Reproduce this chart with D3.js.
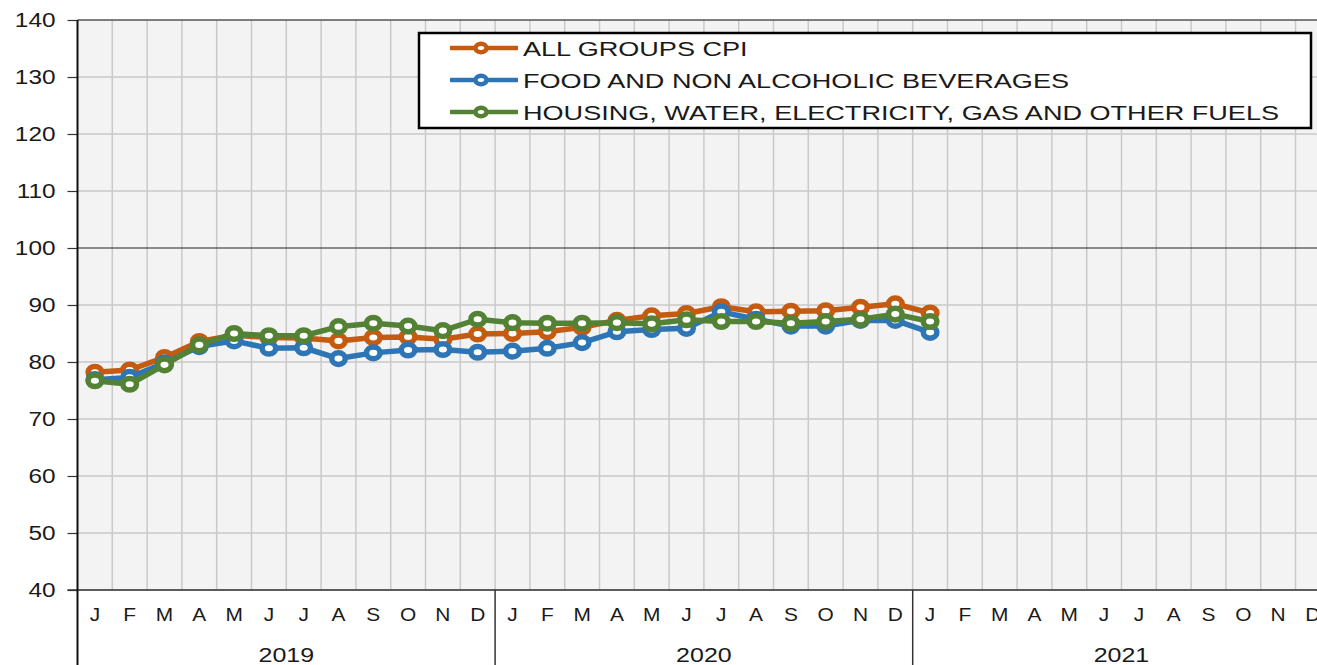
<!DOCTYPE html>
<html>
<head>
<meta charset="utf-8">
<style>
  body { margin: 0; background: #fff; }
  svg { font-family: "Liberation Sans", Arial, sans-serif; }
</style>
</head>
<body>
<svg width="1317" height="665"></svg>
<script src="https://cdn.jsdelivr.net/npm/d3@7/dist/d3.min.js"></script>
<script>
var years = ["2019", "2020", "2021"];
var monthLetters = ["J", "F", "M", "A", "M", "J", "J", "A", "S", "O", "N", "D"];
var yTicks = [40, 50, 60, 70, 80, 90, 100, 110, 120, 130, 140];

var seriesNames = [
  "ALL GROUPS CPI",
  "FOOD AND NON ALCOHOLIC BEVERAGES",
  "HOUSING, WATER, ELECTRICITY, GAS AND OTHER FUELS"
];
var seriesColors = ["#c55a11", "#2e75b6", "#548235"];

// Jan 2019 .. Jan 2021
var allGroups = [78.2, 78.6, 80.8, 83.6, 84.7, 84.3, 84.2, 83.7, 84.3, 84.4, 84.0, 84.9,
                 85.0, 85.3, 86.1, 87.3, 88.1, 88.5, 89.7, 88.8, 88.9, 89.0, 89.6, 90.2,
                 88.6];
var food =      [76.9, 77.3, 79.8, 82.7, 83.7, 82.4, 82.5, 80.6, 81.6, 82.1, 82.2, 81.7,
                 81.9, 82.4, 83.4, 85.3, 85.7, 85.9, 88.8, 87.5, 86.3, 86.3, 87.3, 87.3,
                 85.2];
var housing =   [76.7, 76.1, 79.5, 83.0, 85.0, 84.6, 84.6, 86.2, 86.8, 86.3, 85.5, 87.5,
                 86.9, 86.8, 86.8, 86.9, 86.7, 87.4, 87.1, 87.1, 86.8, 87.1, 87.5, 88.4,
                 87.1];

var svg = d3.select("svg");
var plotLeft = 77.5, plotTop = 20, plotBottom = 590, monthW = 34.8;

var months = [];
years.forEach(function(yr) {
  monthLetters.forEach(function(m, i) { months.push(yr + "-" + i); });
});

var x = d3.scaleBand().domain(months).range([plotLeft, plotLeft + months.length * monthW]).padding(0);
var y = d3.scaleLinear().domain([40, 140]).range([plotBottom, plotTop]);
var plotRight = plotLeft + months.length * monthW;

// widen text horizontally, like the stretched original
function stretch(sel, sx) {
  sel.each(function() {
    var t = d3.select(this);
    var x0 = +t.attr("x") || 0;
    t.attr("x", x0 / sx).attr("transform", "scale(" + sx + ",1)");
  });
}

// plot background
svg.append("rect")
    .attr("x", plotLeft).attr("y", plotTop)
    .attr("width", plotRight - plotLeft).attr("height", plotBottom - plotTop)
    .attr("fill", "#f3f3f3");

// vertical month gridlines
svg.append("g").selectAll("line")
  .data(months.slice(1))
  .enter().append("line")
    .attr("x1", function(d) { return x(d); })
    .attr("x2", function(d) { return x(d); })
    .attr("y1", plotTop).attr("y2", plotBottom)
    .attr("stroke", "#c9c9c9").attr("stroke-width", 1.5);

// horizontal gridlines
svg.append("g").selectAll("line")
  .data(yTicks)
  .enter().append("line")
    .attr("x1", plotLeft).attr("x2", plotRight)
    .attr("y1", function(d) { return y(d); })
    .attr("y2", function(d) { return y(d); })
    .attr("stroke", function(d) { return d === 100 ? "#222" : (d === 140 ? "#555" : "#c9c9c9"); })
    .attr("stroke-width", function(d) { return d === 100 ? 1.2 : 1.5; });

// y axis
var yAxis = svg.append("g")
    .attr("transform", "translate(" + plotLeft + ",0)")
    .call(d3.axisLeft(y).tickValues(yTicks).tickSize(10).tickPadding(12));
yAxis.select(".domain").remove();
yAxis.selectAll(".tick line").attr("stroke", "#333").attr("stroke-width", 1.2);
yAxis.selectAll(".tick text")
    .attr("font-size", 19.5).attr("fill", "#1a1a1a")
    .attr("font-family", "Liberation Sans, Arial, sans-serif")
    .call(stretch, 1.25);

// axis lines
svg.append("line")
    .attr("x1", plotLeft - 10).attr("x2", plotRight)
    .attr("y1", plotBottom).attr("y2", plotBottom)
    .attr("stroke", "#333").attr("stroke-width", 1.5);
svg.append("line")
    .attr("x1", plotLeft).attr("x2", plotLeft)
    .attr("y1", plotTop).attr("y2", 665)
    .attr("stroke", "#111").attr("stroke-width", 2);

// year separators
svg.append("g").selectAll("line")
  .data(years.slice(1))
  .enter().append("line")
    .attr("x1", function(d) { return x(d + "-0"); })
    .attr("x2", function(d) { return x(d + "-0"); })
    .attr("y1", plotBottom).attr("y2", 665)
    .attr("stroke", "#333").attr("stroke-width", 1.5);

// month labels
svg.append("g").selectAll("text")
  .data(months)
  .enter().append("text")
    .attr("x", function(d) { return x(d) + x.bandwidth() / 2; })
    .attr("y", 621)
    .attr("text-anchor", "middle")
    .attr("font-size", 19).attr("fill", "#1a1a1a")
    .text(function(d) { return monthLetters[+d.split("-")[1]]; })
    .call(stretch, 1.1);

// year labels
svg.append("g").selectAll("text")
  .data(years)
  .enter().append("text")
    .attr("x", function(d) { return (x(d + "-0") + x(d + "-11") + x.bandwidth()) / 2; })
    .attr("y", 662)
    .attr("text-anchor", "middle")
    .attr("font-size", 20).attr("fill", "#1a1a1a")
    .text(function(d) { return d; })
    .call(stretch, 1.25);

// series
var data = [allGroups, food, housing];
var line = d3.line()
    .x(function(d, i) { return x(months[i]) + x.bandwidth() / 2; })
    .y(function(d) { return y(d); });

data.forEach(function(vals, s) {
  var g = svg.append("g");
  g.append("path")
      .attr("d", line(vals))
      .attr("fill", "none")
      .attr("stroke", seriesColors[s])
      .attr("stroke-width", 5.5)
      .attr("stroke-linejoin", "round");
  g.selectAll("ellipse")
    .data(vals)
    .enter().append("ellipse")
      .attr("cx", function(d, i) { return x(months[i]) + x.bandwidth() / 2; })
      .attr("cy", function(d) { return y(d); })
      .attr("rx", 6.8).attr("ry", 5.8)
      .attr("fill", "#fff")
      .attr("stroke", seriesColors[s])
      .attr("stroke-width", 5.5);
});

// legend
var legend = svg.append("g");
legend.append("rect")
    .attr("x", 419).attr("y", 33)
    .attr("width", 892).attr("height", 95)
    .attr("fill", "#fff").attr("stroke", "#000").attr("stroke-width", 2.5);

var item = legend.selectAll(".item")
  .data(seriesNames)
  .enter().append("g")
    .attr("class", "item")
    .attr("transform", function(d, i) { return "translate(0," + (48 + i * 32) + ")"; });
item.append("line")
    .attr("x1", 450).attr("x2", 518)
    .attr("stroke", function(d, i) { return seriesColors[i]; })
    .attr("stroke-width", 4.5);
item.append("ellipse")
    .attr("cx", 481).attr("rx", 5.5).attr("ry", 4.2)
    .attr("fill", "#fff")
    .attr("stroke", function(d, i) { return seriesColors[i]; })
    .attr("stroke-width", 4.5);
item.append("text")
    .attr("x", 523).attr("y", 7.5)
    .attr("font-size", 21).attr("fill", "#1a1a1a")
    .text(function(d) { return d; })
    .call(stretch, 1.29);
</script>
</body>
</html>
